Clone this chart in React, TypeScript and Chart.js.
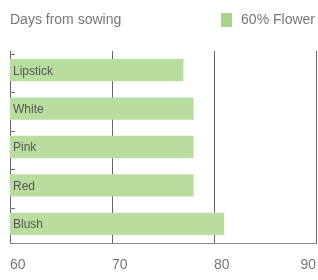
import React, { useEffect, useRef } from "react";
import { Chart, registerables } from "chart.js";

Chart.register(...registerables);

const categories = ["Lipstick", "White", "Pink", "Red", "Blush"];
const flowerDays = [77, 78, 78, 78, 81];
const xTicks = [60, 70, 80, 90];
const seriesLabel = "60% Flower";
const chartTitle = "Days from sowing";

const FONT = "Liberation Sans, Arial, sans-serif";

const overlay = {
  id: "overlay",
  afterDraw(chart: any) {
    const ctx = chart.ctx;
    const xs = chart.scales.x;
    const ys = chart.scales.y;
    const area = chart.chartArea;
    ctx.save();
    // left axis tick marks at band boundaries
    const band = (area.bottom - area.top) / categories.length;
    ctx.strokeStyle = "#777";
    ctx.lineWidth = 1;
    for (let i = 0; i < categories.length; i++) {
      const y = Math.round(ys.getPixelForValue(i) - band / 2) + 0.5;
      ctx.beginPath();
      ctx.moveTo(area.left, y + 3);
      ctx.lineTo(area.left + 5, y + 3);
      ctx.stroke();
    }
    // bar labels
    ctx.fillStyle = "#555";
    ctx.font = "12px " + FONT;
    ctx.textAlign = "left";
    ctx.textBaseline = "middle";
    categories.forEach((c, i) => {
      ctx.fillText(c, area.left + 3, ys.getPixelForValue(i) + 1);
    });
    // x tick labels
    ctx.fillStyle = "#777";
    ctx.font = "14px " + FONT;
    xTicks.forEach((v, i) => {
      const px = xs.getPixelForValue(v);
      ctx.textAlign = i === xTicks.length - 1 ? "right" : "left";
      ctx.fillText(String(v), px, 265);
    });
    // title
    ctx.textAlign = "left";
    ctx.fillText(chartTitle, 10, 20);
    // legend
    ctx.fillStyle = "#a6d48b";
    ctx.fillRect(221, 13, 11, 14);
    ctx.fillStyle = "#777";
    ctx.textAlign = "right";
    ctx.fillText(chart.data.datasets[0].label, 315, 20);
    ctx.restore();
  },
};

export default function App() {
  const ref = useRef<HTMLCanvasElement>(null);
  useEffect(() => {
    document.body.style.margin = "0";
    const chart = new Chart(ref.current!, {
      type: "bar",
      data: {
        labels: categories,
        datasets: [
          {
            label: seriesLabel,
            data: flowerDays,
            backgroundColor: "#b8dd9e",
            borderWidth: 0,
            barPercentage: 0.58,
            categoryPercentage: 1,
          },
        ],
      },
      options: {
        indexAxis: "y",
        animation: false,
        responsive: false,
        maintainAspectRatio: false,
        layout: { padding: { left: 10, top: 51, right: 2, bottom: 37 } },
        plugins: { legend: { display: false }, title: { display: false }, tooltip: { enabled: false } },
        scales: {
          x: {
            min: 60,
            max: 90,
            ticks: { stepSize: 10, display: false },
            grid: { color: "#666", drawTicks: false, lineWidth: 1 },
            border: { display: true, color: "#888" },
          },
          y: { display: false },
        },
      },
      plugins: [overlay],
    });
    return () => chart.destroy();
  }, []);
  return (
    <div style={{ width: 318, height: 280 }}>
      <canvas ref={ref} width={318} height={280} style={{ display: "block" }} />
    </div>
  );
}
